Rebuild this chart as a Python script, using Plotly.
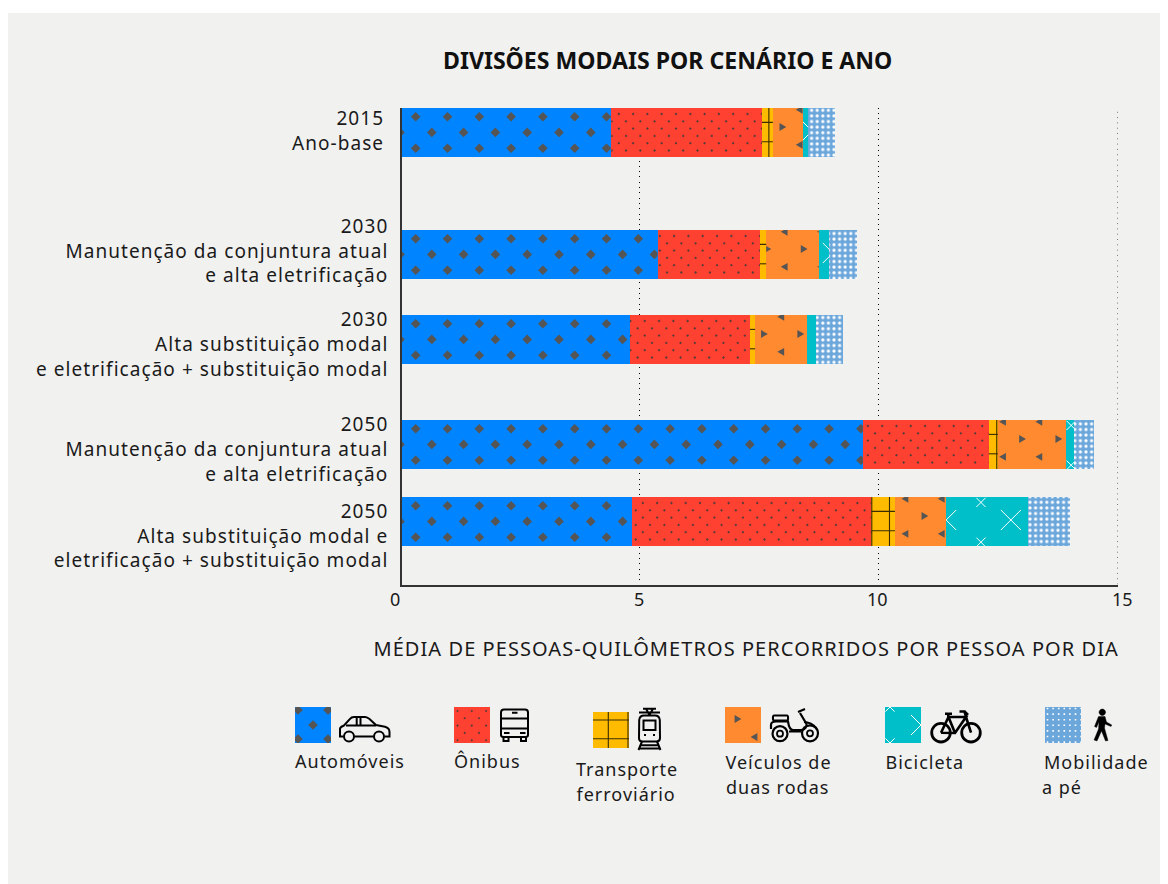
import plotly.graph_objects as go

# ---------- data ----------
scenarios = ["2015<br>Ano-base",
             "2030<br>Manutenção da conjuntura atual<br>e alta eletrificação",
             "2030<br>Alta substituição modal<br>e eletrificação + substituição modal",
             "2050<br>Manutenção da conjuntura atual<br>e alta eletrificação",
             "2050<br>Alta substituição modal e<br>eletrificação + substituição modal"]
automoveis = [4.41, 5.38, 4.80, 9.67, 4.85]
onibus     = [3.15, 2.14, 2.51, 2.63, 5.00]
ferroviario = [0.23, 0.13, 0.11, 0.19, 0.49]
duas_rodas = [0.63, 1.10, 1.08, 1.42, 1.07]
bicicleta  = [0.11, 0.22, 0.20, 0.18, 1.71]
a_pe       = [0.56, 0.58, 0.56, 0.41, 0.88]
x_ticks = [0, 5, 10, 15]
title = "DIVISÕES MODAIS POR CENÁRIO E ANO"
x_title = "MÉDIA DE PESSOAS-QUILÔMETROS PERCORRIDOS POR PESSOA POR DIA"

# ---------- layout constants (screen geometry) ----------
FONT = "Noto Sans"
TXT = "#1a1a1a"
BG = "#f1f1f0"
X0, X1 = 400.0, 1118.0
Y_TOP, Y_BOT = 107.5, 584.5
PAGE_TOP, PAGE_BOT = 10.0, 884.0   # plot area of the full-page helper axes
PAGE_H = PAGE_BOT - PAGE_TOP
S = (X1 - X0) / 15.0
row_c = [132.5, 254.5, 339.5, 444.5, 521.5]
label_c = [131, 251, 344.5, 449.5, 536]
BAR_H = 49
C = dict(auto="#0084ff", bus="#ff4131", rail="#ffbb00", moto="#ff8a30", bike="#00bfc9", walk="#6ca7dc")
MARK = "#555555"
GRID_DASH = "1px,4.3px"

rail_v = [[7], [], [], [8], [0.3, 18]]
bus_phase = [7.7, 2.3, 0.7, 5.0, 10.7]
moto_phase = [10, 1.7, 9.3, 24.7, 30]
bike_phase = [9, 14, 20, -29.5, 0]


def clip_poly(pts, x0, x1, y0, y1):
    def clip(pts, inside, cross):
        out = []
        for i, p in enumerate(pts):
            q = pts[i - 1]
            if inside(p):
                if not inside(q):
                    out.append(cross(q, p))
                out.append(p)
            elif inside(q):
                out.append(cross(q, p))
        return out
    def cx(v):
        return lambda a, b: (v, a[1] + (b[1] - a[1]) * (v - a[0]) / (b[0] - a[0]))
    def cy(v):
        return lambda a, b: (a[0] + (b[0] - a[0]) * (v - a[1]) / (b[1] - a[1]), v)
    for inside, cross in [(lambda p: p[0] >= x0, cx(x0)), (lambda p: p[0] <= x1, cx(x1)),
                          (lambda p: p[1] >= y0, cy(y0)), (lambda p: p[1] <= y1, cy(y1))]:
        if not pts:
            return []
        pts = clip(pts, inside, cross)
    return pts


def clip_seg(a, b, x0, x1, y0, y1):
    t0, t1 = 0.0, 1.0
    dx, dy = b[0] - a[0], b[1] - a[1]
    for p, q in [(-dx, a[0] - x0), (dx, x1 - a[0]), (-dy, a[1] - y0), (dy, y1 - a[1])]:
        if p == 0:
            if q < 0:
                return None
            continue
        r = q / p
        if p < 0:
            t0 = max(t0, r)
        else:
            t1 = min(t1, r)
    if t0 >= t1:
        return None
    return (a[0] + t0 * dx, a[1] + t0 * dy), (a[0] + t1 * dx, a[1] + t1 * dy)


def diamond(cx, cy, r):
    return [(cx - r, cy), (cx, cy - r), (cx + r, cy), (cx, cy + r)]


def tri(cx, cy, d):
    return [(cx - d * 3.4, cy - 3.9), (cx + d * 3.4, cy), (cx - d * 3.4, cy + 3.9)]


def steps(start, stop, step):
    out, v = [], start
    while v <= stop:
        out.append(v)
        v += step
    return out


fig = go.Figure()
PH = dict(hoverinfo="skip", showlegend=False)


def add_polys(polys, color, box, main=True):
    xs, ys = [], []
    for p in polys:
        p = clip_poly(p, *box)
        if len(p) < 3:
            continue
        for x, y in p + p[:1]:
            xs.append((x - X0) / S if main else x)
            ys.append(y)
        xs.append(None)
        ys.append(None)
    if xs:
        fig.add_trace(go.Scatter(x=xs, y=ys, mode="lines", fill="toself", fillcolor=color,
                                 line=dict(width=0, color=color),
                                 xaxis="x" if main else "x2", yaxis="y" if main else "y2", **PH))


def add_lines(segs, color, width, box, main=True):
    xs, ys = [], []
    for a, b in segs:
        s = clip_seg(a, b, *box)
        if not s:
            continue
        for x, y in s:
            xs.append((x - X0) / S if main else x)
            ys.append(y)
        xs.append(None)
        ys.append(None)
    if xs:
        fig.add_trace(go.Scatter(x=xs, y=ys, mode="lines", line=dict(width=width, color=color),
                                 xaxis="x" if main else "x2", yaxis="y" if main else "y2", **PH))


# ---------- bars ----------
series = [("Automóveis", automoveis, "auto"), ("Ônibus", onibus, "bus"),
          ("Transporte ferroviário", ferroviario, "rail"), ("Veículos de duas rodas", duas_rodas, "moto"),
          ("Bicicleta", bicicleta, "bike"), ("Mobilidade a pé", a_pe, "walk")]
for name, vals, key in series:
    marker = dict(color=C[key], line=dict(width=0))
    if key == "walk":
        marker["pattern"] = dict(shape=".", bgcolor=C[key], fgcolor="white", size=5.6, solidity=0.26,
                                 fillmode="replace")
    fig.add_trace(go.Bar(name=name, orientation="h", x=vals, y=row_c, width=BAR_H, marker=marker,
                         showlegend=False, hovertemplate=name + ": %{x}<extra></extra>"))

# ---------- textures, clipped to each computed bar segment ----------
for i, c in enumerate(row_c):
    top, bot = c - BAR_H / 2, c + BAR_H / 2
    edges = [X0]
    for _, vals, _k in series:
        edges.append(edges[-1] + vals[i] * S)
    box = (edges[0], edges[1], top, bot)
    polys = []
    for x in steps(X0, edges[1] + 20, 31.8):
        polys += [diamond(x + 15.7, top + 8.7, 4.8), diamond(x, top + 24.4, 4.8),
                  diamond(x + 15.7, top + 40.3, 4.8)]
    add_polys(polys, MARK, box)
    box = (edges[1], edges[2], top, bot)
    polys = []
    x_start = edges[1] + bus_phase[i] - 14.3
    for x in steps(x_start, edges[2] + 15, 14.3):
        for k in range(6):
            polys.append(diamond(x + (7.2 if k % 2 else 0), top + 6 + 7.3 * k, 1.4))
    add_polys(polys, "#5a3c3a", box)
    box = (edges[2], edges[3], top, bot)
    segs = [((edges[2], top + d), (edges[3], top + d)) for d in (14.4, 33.8)]
    segs += [((edges[2] + v, top), (edges[2] + v, bot)) for v in rail_v[i]]
    add_lines(segs, "#3a2c00", 1.1, box)
    box = (edges[3], edges[4], top, bot)
    polys = []
    for x in steps(edges[3] + moto_phase[i] - 72.6, edges[4] + 40, 36.3):
        polys += [tri(x, top + 19, 1), tri(x + 16.3, top + 1.8, -1), tri(x + 16.3, top + 36.8, -1)]
    add_polys(polys, MARK, box)
    box = (edges[4], edges[5], top, bot)
    segs = []
    for x in steps(edges[4] + bike_phase[i] - 64.7, edges[5] + 70, 64.7):
        for cx, cy, r in [(x, top + 23, 10), (x + 34.8, top + 5.4, 4.6), (x + 34.8, top + 45.2, 4.6)]:
            segs += [((cx - r, cy - r), (cx + r, cy + r)), ((cx - r, cy + r), (cx + r, cy - r))]
    add_lines(segs, "white", 1, box)

# ---------- legend swatches ----------
legend = [
    ("auto", 295, 707, [("Automóveis", 350)], 761),
    ("bus", 454, 707, [("Ônibus", 487.5)], 761),
    ("rail", 593, 712, [("Transporte", 627), ("ferroviário", 625.5)], 769),
    ("moto", 725, 707, [("Veículos de", 778), ("duas rodas", 777.5)], 762),
    ("bike", 885, 707, [("Bicicleta", 925)], 762),
    ("walk", 1045, 707, [("Mobilidade", 1096), ("a pé", 1061.5)], 762),
]
SW = 36
for key, x, y, lines, ty in legend:
    box = (x, x + SW, y, y + SW)
    add_polys([[(x, y), (x + SW, y), (x + SW, y + SW), (x, y + SW)]], C[key], box, main=False)
    if key == "auto":
        add_polys([diamond(x + 18, y + 18, 4.8)] + [diamond(x + a, y + b, 4.8) for a in (3, 33) for b in (3, 32)],
                  MARK, box, main=False)
    elif key == "bus":
        polys = []
        for k in range(5):
            for m in range(3):
                polys.append(diamond(x + 3.5 + m * 14.3 + (7.2 if k % 2 else 0), y + 4 + 7.3 * k, 1.3))
        add_polys(polys, "#5a3c3a", box, main=False)
    elif key == "rail":
        add_lines([((x, y + 8), (x + SW, y + 8)), ((x, y + 26.7), (x + SW, y + 26.7)),
                   ((x + 15.3, y), (x + 15.3, y + SW)), ((x + 35, y), (x + 35, y + SW))],
                  "#3a2c00", 1.1, box, main=False)
    elif key == "moto":
        add_polys([tri(x + 13, y + 12, 1), tri(x + 29, y + 30, -1)], MARK, box, main=False)
    elif key == "bike":
        segs = []
        for cx, cy, r in [(x + 36, y + 18, 10), (x + 5, y, 4.6), (x + 5, y + 36, 4.6)]:
            segs += [((cx - r, cy - r), (cx + r, cy + r)), ((cx - r, cy + r), (cx + r, cy - r))]
        add_lines(segs, "white", 1, box, main=False)
    elif key == "walk":
        polys = []
        for m in range(7):
            for k in range(7):
                cx, cy = x + 2.5 + 5.6 * m, y + 1.5 + 5.6 * k
                polys.append([(cx - .8, cy - .8), (cx + .8, cy - .8), (cx + .8, cy + .8), (cx - .8, cy + .8)])
        add_polys(polys, "white", box, main=False)

# ---------- legend icons ----------


def circle_path(cx, cy, r):
    k = 0.5523 * r
    return (f"M{cx-r},{cy} C{cx-r},{cy-k} {cx-k},{cy-r} {cx},{cy-r} C{cx+k},{cy-r} {cx+r},{cy-k} {cx+r},{cy} "
            f"C{cx+r},{cy+k} {cx+k},{cy+r} {cx},{cy+r} C{cx-k},{cy+r} {cx-r},{cy+k} {cx-r},{cy} Z")


shapes = [dict(type="rect", xref="paper", yref="paper", x0=0, x1=1, y0=(PAGE_BOT - 13) / PAGE_H, y1=1.02,
               fillcolor="white", line=dict(width=0), layer="above"),
          # plotly drops the gridline at the end of the range, so the one at 15 is drawn here
          dict(type="line", xref="x", yref="y", x0=x_ticks[-1], x1=x_ticks[-1], y0=Y_BOT, y1=Y_TOP, layer="below",
               line=dict(color="#000000", width=1, dash=GRID_DASH))]


def icon(path, w=2.0, fill=None, color="#000000"):
    shapes.append(dict(type="path", path=path, xref="x2", yref="y2", layer="above",
                       line=dict(color=color, width=w), fillcolor=fill if fill else "rgba(0,0,0,0)"))


# car
icon("M343.5,736.5 L340,736.5 L340,729 C340,727 342,726.5 344,725.5 L350,719 C351,717.5 352,717 354,717 "
     "L365,717 C367,717 368,718 369.5,719 L376,725 L385,726.7 C388,727.5 389.5,729 389.5,732 L389.5,736.5 L384.5,736.5")
icon("M354.5,736.5 L373.5,736.5 M346,725.5 L376,725.5 M356.7,717.5 L356.7,725.5 M360.5,717.5 L360.5,725.5")
icon(circle_path(349, 736.5, 5))
icon(circle_path(379, 736.5, 5))
# bus
icon("M504,709.5 L525,709.5 C527,709.5 528,710.5 528,712.5 L528,735 C528,736.5 527,737 525.5,737 L503.5,737 "
     "C502,737 501,736.5 501,735 L501,712.5 C501,710.5 502,709.5 504,709.5 Z")
icon("M501,718.5 L528,718.5 M501,728.5 L528,728.5 M512,712.7 L517.5,712.7 M504,733 L509.5,733 M520,733 L525.5,733")
icon("M503.5,737 L503.5,741 L508.5,741 L508.5,737 M521,737 L521,741 L526,741 L526,737")
# tram
icon("M643,708.7 L656,708.7 M639,712.5 L660,712.5 M646,708.7 L649.5,715 M653,708.7 L649.5,715")
icon("M644,715.5 L655,715.5 C658,715.5 659.5,717.5 659.8,720 L660,738 C660,740.5 658.5,741.5 656.5,741.5 "
     "L642.5,741.5 C640.5,741.5 639,740.5 639,738 L639.2,720 C639.5,717.5 641,715.5 644,715.5 Z")
icon("M643.5,720.5 L655.5,720.5 L655.5,730 L643.5,730 Z")
icon("M644,735 L646,735 M653,735 L655,735", w=2)
icon("M642,741.5 L638.5,750 M657,741.5 L660.5,750 M640.5,745.2 L658.5,745.2 M639.3,748.5 L659.7,748.5")
# scooter
icon(circle_path(780, 733.7, 7.5), w=2.2)
icon(circle_path(780, 733.7, 3), w=1.8)
icon(circle_path(810, 733.3, 8), w=2.2)
icon(circle_path(810, 733.3, 3), w=1.8)
icon("M774,715.5 L787,715.5 C788.5,715.5 788.5,720.5 787,720.5 L774,720.5 C772.5,720.5 772.5,715.5 774,715.5 Z")
icon("M771,729 L771,725 C771,722 773,721.5 776,721.5 L788,721.5 C788.5,725 790,730 793,730 L801,730 C805,730 807,727 "
     "806.5,724 L800,713 M789,731.5 L801,731.5", w=2.2)
icon("M798,712 L805,709 M804,722 C808,722 814,724 817,729", w=2)
# bicycle
icon(circle_path(941, 732.7, 9.3), w=2.8)
icon(circle_path(971, 732.7, 9.3), w=2.8)
icon("M941,732.7 L948.5,717 L966,717 L955,733 L941,732.7 M948.5,717 L955,733 M966,717 L971,732.7", w=2.6)
icon("M945,713.7 L952,713.7 M948.5,717 L948,713.7 M966,717 L964.5,711.5 L959.5,711.5 M964.5,711.5 L968,715", w=2.6)
# pedestrian
icon(circle_path(1102.3, 712.3, 3.2), w=0.5, fill="#000000")
icon("M1098.5,716.5 L1105,716.5 L1106.5,722 L1111.8,725 L1111,726.5 L1105,724 L1104.5,728 L1108,740.5 L1105.5,741 "
     "L1101.5,731 L1097,741 L1094,740 L1098.5,729 L1099,722 L1096.5,727.5 L1094.5,726.5 Z", w=0.4, fill="#000000")

# ---------- text ----------
ann = [dict(text=f"<b>{title}</b>", x=667, y=60, xanchor="center", yanchor="middle",
            font=dict(size=23.1, family=FONT, color="#111111")),
       dict(text=x_title, x=746, y=648, xanchor="center", yanchor="middle",
            font=dict(size=20, family=FONT, color=TXT))]
for v, shift in zip(x_ticks, [-5, 0, -1, 4]):
    ann.append(dict(text=str(v), x=X0 + v * S + shift, y=598.5, xanchor="center", yanchor="middle",
                    font=dict(size=18, family=FONT, color=TXT)))
for key, x, y, lines, ty in legend:
    for j, (line, tx) in enumerate(lines):
        ann.append(dict(text=line, x=tx, y=ty + j * 24.5, xanchor="center", yanchor="middle",
                        font=dict(size=18, family=FONT, color=TXT)))
for a in ann:
    a.update(xref="x2", yref="y2", showarrow=False)

tick_text = [s.replace("<br>", "\u2009<br>") + "\u2009" if i == 0 else s for i, s in enumerate(scenarios)]

fig.update_layout(
    width=1160, height=876, autosize=False, barmode="stack",
    margin=dict(l=0, r=0, t=0, b=0, pad=0),
    paper_bgcolor=BG, plot_bgcolor="rgba(0,0,0,0)",
    font=dict(family=FONT, color=TXT),
    showlegend=False, shapes=shapes, annotations=ann,
    xaxis=dict(domain=[(X0 - 8) / 1160, (X1 - 8) / 1160], range=[0, 15], tickvals=x_ticks, showticklabels=False,
               showgrid=True, gridcolor="#000000", griddash=GRID_DASH, gridwidth=1, zeroline=False,
               showline=True, linecolor="#333333", linewidth=1.5, ticks="", anchor="y", layer="above traces"),
    yaxis=dict(domain=[(PAGE_BOT - Y_BOT) / PAGE_H, (PAGE_BOT - Y_TOP) / PAGE_H], range=[Y_BOT, Y_TOP],
               tickvals=label_c, ticktext=tick_text, tickfont=dict(size=19, family=FONT, color=TXT), ticks="",
               showgrid=False, zeroline=False, showline=True, linecolor="#333333", linewidth=1.5,
               anchor="free", position=(400.9 - 8) / 1160,
               ticklabelstandoff=8, layer="above traces"),
    xaxis2=dict(domain=[0, 1], range=[8, 1168], visible=False, anchor="y2", fixedrange=True),
    yaxis2=dict(domain=[0, 1], range=[PAGE_BOT, PAGE_TOP], visible=False, anchor="x2", fixedrange=True),
)

# The reference face is tracked wider than any installed font: widen the letter spacing.
post = """
var gd = document.getElementById('{plot_id}');
function track() {
  gd.querySelectorAll('.ytick text').forEach(function (t) { t.style.letterSpacing = '1.05px'; });
  gd.querySelectorAll('.annotation-text').forEach(function (t) {
    var s = t.textContent;
    if (/^[0-9]+$/.test(s) || s.indexOf('DIVIS') === 0) return;
    t.style.letterSpacing = s.indexOf('MÉDIA') === 0 ? '1.07px' : '1px';
  });
}
track();
gd.on('plotly_afterplot', track);
"""
fig.write_html("out.html", post_script=post)
